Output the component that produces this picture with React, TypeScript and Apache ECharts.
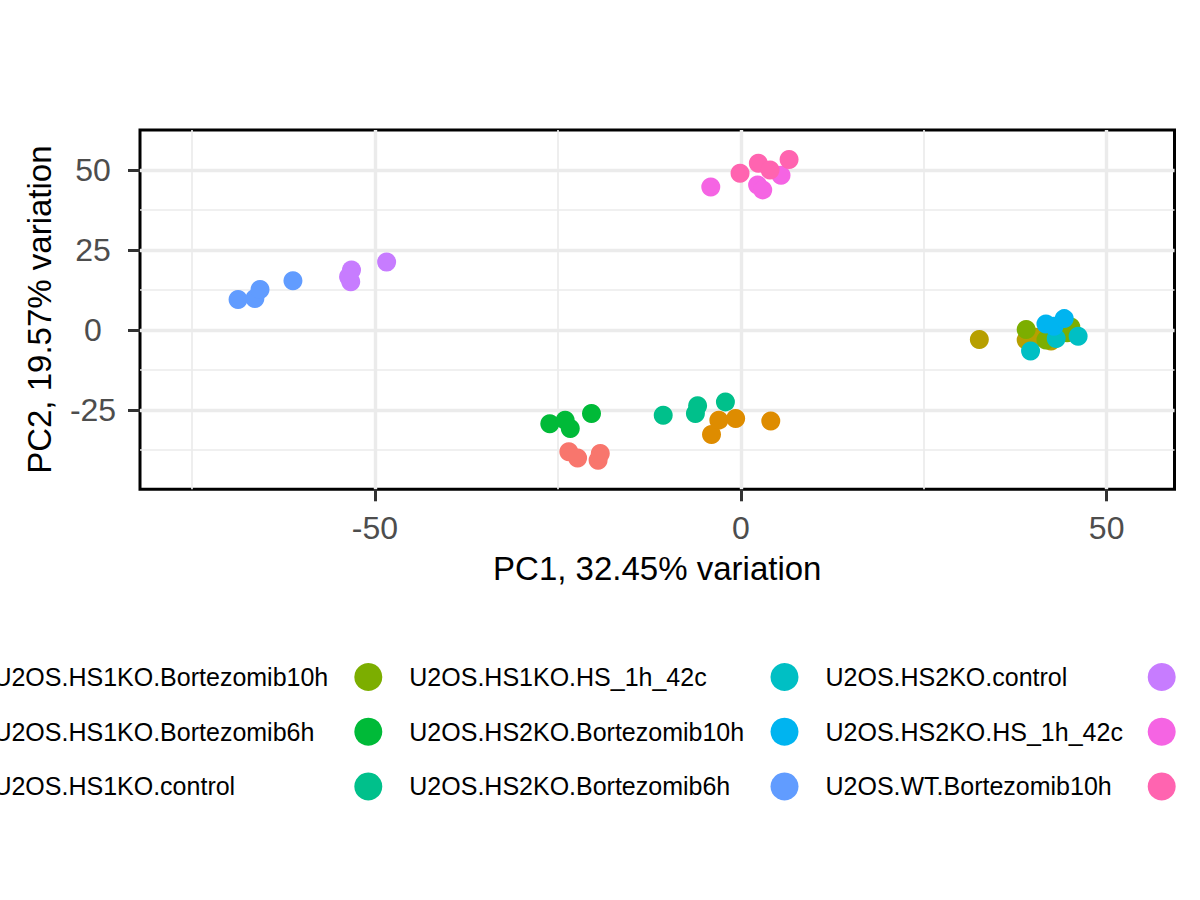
import React, { useEffect, useRef } from 'react';
import * as echarts from 'echarts';
import type { EChartsType } from 'echarts';

// PCA groups, in legend order
const groupNames = [
  'U2OS.HS1KO.Bortezomib10h',
  'U2OS.HS1KO.Bortezomib6h',
  'U2OS.HS1KO.control',
  'U2OS.HS1KO.HS_1h_42c',
  'U2OS.HS2KO.Bortezomib10h',
  'U2OS.HS2KO.Bortezomib6h',
  'U2OS.HS2KO.control',
  'U2OS.HS2KO.HS_1h_42c',
  'U2OS.WT.Bortezomib10h',
  'U2OS.WT.Bortezomib6h',
  'U2OS.WT.control',
  'U2OS.WT.HS_1h_42c'
];

const groupColors = [
  '#F8766D', '#DE8C00', '#B79F00', '#7CAE00', '#00BA38', '#00C08B',
  '#00BFC4', '#00B4F0', '#619CFF', '#C77CFF', '#F564E3', '#FF64B0'
];

// [PC1, PC2] per sample
const hs1koBortezomib10h = [[-23.5, -38.0], [-22.3, -39.9], [-19.5, -40.6], [-19.2, -38.5]];
const hs1koBortezomib6h = [[-4.0, -32.6], [-3.0, -28.1], [-0.7, -27.6], [4.1, -28.4]];
const hs1koControl = [[32.6, -2.9], [39.0, -3.1], [40.3, -2.2], [42.4, -3.4]];
const hs1koHeat = [[39.0, 0.2], [41.7, -3.1], [44.6, -0.8], [45.1, 1.0]];
const hs2koBortezomib10h = [[-26.1, -29.2], [-24.0, -28.1], [-23.3, -30.7], [-20.4, -26.0]];
const hs2koBortezomib6h = [[-10.6, -26.6], [-6.2, -26.0], [-5.9, -23.6], [-2.1, -22.4]];
const hs2koControl = [[39.6, -6.5], [43.1, -2.6], [46.1, -1.9]];
const hs2koHeat = [[41.7, 1.9], [42.8, 1.2], [44.2, 3.6]];
const wtBortezomib10h = [[-68.7, 9.6], [-66.4, 9.9], [-65.7, 12.7], [-61.2, 15.4]];
const wtBortezomib6h = [[-53.2, 18.8], [-53.3, 15.1], [-53.6, 16.7], [-48.4, 21.3]];
const wtControl = [[-4.1, 44.7], [2.3, 45.3], [3.0, 43.8], [5.5, 48.4]];
const wtHeat = [[-0.1, 49.0], [2.4, 52.1], [4.0, 50.0], [6.6, 53.3]];

const groupPoints = [
  hs1koBortezomib10h, hs1koBortezomib6h, hs1koControl, hs1koHeat,
  hs2koBortezomib10h, hs2koBortezomib6h, hs2koControl, hs2koHeat,
  wtBortezomib10h, wtBortezomib6h, wtControl, wtHeat
];

const xMajorTicks = [-50, 0, 50];
const xMinorTicks = [-75, -25, 25];
const yMajorTicks = [-25, 0, 25, 50];
const yMinorTicks = [-37.5, -12.5, 12.5, 37.5];
const xRange = [-82.1, 59.27];
const yRange = [-49.7, 62.5];

const xTitle = 'PC1, 32.45% variation';
const yTitle = 'PC2, 19.57% variation';

const FONT = '"Liberation Sans", Arial, Helvetica, sans-serif';
const GRID_COLOR = '#EBEBEB';

const PcaChart = () => {
  const chartRef = useRef<HTMLDivElement>(null);

  useEffect(() => {
    let chartInstance: EChartsType | null = null;
    document.body.style.margin = '0';

    if (chartRef.current) {
      chartInstance = echarts.init(chartRef.current, undefined, { renderer: 'svg' });

      // legend is wider than the page in the original, so outer columns get clipped
      const legendLefts = [-61.6, 354.3, 770.5, 1147.7];
      const legends = legendLefts.map((left, col) => ({
        orient: 'vertical',
        left,
        top: 663,
        padding: 0,
        itemWidth: 72,
        itemHeight: 28,
        itemGap: 26.7,
        icon: 'circle',
        selectedMode: false,
        data: groupNames.slice(col * 3, col * 3 + 3),
        textStyle: { fontSize: 25, color: '#000', fontFamily: FONT, lineHeight: 28 }
      }));

      const minorAxisCommon = {
        type: 'value',
        gridIndex: 0,
        axisLine: { show: false, onZero: false },
        axisLabel: { show: false },
        splitLine: { show: true, lineStyle: { color: GRID_COLOR, width: 1.7 } }
      };

      const mainTick = (values: number[]) => ({
        show: true,
        inside: false,
        length: 12,
        customValues: values,
        lineStyle: { color: '#333333', width: 3 }
      });

      const option = {
        animation: false,
        textStyle: { fontFamily: FONT },
        grid: {
          left: 140,
          top: 130,
          right: 25.5,
          bottom: 410.7,
          show: true,
          borderColor: '#000',
          borderWidth: 3,
          backgroundColor: 'transparent',
          containLabel: false
        },
        legend: legends,
        xAxis: [
          {
            ...minorAxisCommon,
            min: xRange[0],
            max: xRange[1],
            position: 'bottom',
            axisTick: { show: false, customValues: xMinorTicks }
          },
          {
            type: 'value',
            gridIndex: 0,
            min: xRange[0],
            max: xRange[1],
            position: 'bottom',
            name: xTitle,
            nameLocation: 'middle',
            nameGap: 63,
            nameTextStyle: { fontSize: 33, color: '#000', fontFamily: FONT },
            axisLine: { show: false, onZero: false },
            axisTick: mainTick(xMajorTicks),
            axisLabel: {
              customValues: xMajorTicks,
              margin: 23,
              fontSize: 32,
              color: '#4D4D4D',
              fontFamily: FONT
            },
            splitLine: { show: true, lineStyle: { color: GRID_COLOR, width: 3.4 } }
          }
        ],
        yAxis: [
          {
            ...minorAxisCommon,
            min: yRange[0],
            max: yRange[1],
            position: 'left',
            axisTick: { show: false, customValues: yMinorTicks }
          },
          {
            type: 'value',
            gridIndex: 0,
            min: yRange[0],
            max: yRange[1],
            position: 'left',
            name: yTitle,
            nameLocation: 'middle',
            nameGap: 84,
            nameTextStyle: { fontSize: 33, color: '#000', fontFamily: FONT },
            axisLine: { show: false, onZero: false },
            axisTick: mainTick(yMajorTicks),
            axisLabel: {
              customValues: yMajorTicks,
              margin: 47,
              align: 'center',
              fontSize: 32,
              color: '#4D4D4D',
              fontFamily: FONT
            },
            splitLine: { show: true, lineStyle: { color: GRID_COLOR, width: 3.4 } }
          }
        ],
        series: groupNames.map((name, i) => ({
          name,
          type: 'scatter',
          xAxisIndex: 1,
          yAxisIndex: 1,
          symbol: 'circle',
          symbolSize: 19,
          itemStyle: { color: groupColors[i], opacity: 1 },
          emphasis: { disabled: true },
          data: groupPoints[i]
        }))
      };

      chartInstance.setOption(option as any);
    }

    return () => {
      chartInstance?.dispose();
    };
  }, []);

  return (
    <div
      ref={chartRef}
      style={{ width: '1200px', height: '900px', overflow: 'hidden', background: '#fff' }}
    ></div>
  );
};

export default function App() {
  return <PcaChart />;
}
